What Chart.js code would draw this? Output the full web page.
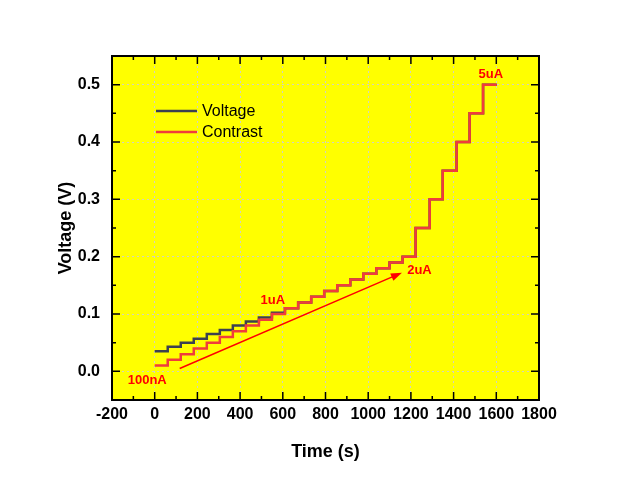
<!DOCTYPE html>
<html>
<head>
<meta charset="utf-8">
<script src="https://cdn.jsdelivr.net/npm/chart.js@4.4.1/dist/chart.umd.min.js"></script>
<style>
  html, body { margin: 0; padding: 0; background: #ffffff; }
  #wrap { width: 626px; height: 480px; }
</style>
</head>
<body>
<div id="wrap"><canvas id="grafik" width="626" height="480"></canvas></div>
<script>
// Veriler: her seviye kendi başlangıç zamanında, son nokta bitiş
const zaman = [0, 61, 122, 183, 244, 305, 366, 427, 488, 549, 610, 672, 733, 794, 855, 916, 977, 1038, 1100, 1161, 1222, 1288, 1349, 1414, 1475, 1538, 1602];
const kontrast = [0.01, 0.02, 0.03, 0.04, 0.05, 0.06, 0.07, 0.08, 0.09, 0.10, 0.11, 0.12, 0.13, 0.14, 0.15, 0.16, 0.17, 0.18, 0.19, 0.20, 0.25, 0.30, 0.35, 0.40, 0.45, 0.50, 0.50];
const voltaj = [0.035, 0.043, 0.050, 0.057, 0.065, 0.072, 0.080, 0.087, 0.094, 0.102, 0.11, 0.12, 0.13, 0.14, 0.15, 0.16, 0.17, 0.18, 0.19, 0.20, 0.25, 0.30, 0.35, 0.40, 0.45, 0.50, 0.50];

const xTikler = [-200, 0, 200, 400, 600, 800, 1000, 1200, 1400, 1600, 1800];
const yTikler = [0.0, 0.1, 0.2, 0.3, 0.4, 0.5];

// Etiketler ve ok (veri biriminde)
const etiketler = [
    { text: '100nA', x: -35, y: -0.016 },
    { text: '1uA', x: 553, y: 0.124 },
    { text: '2uA', x: 1240, y: 0.176 },
    { text: '5uA', x: 1574, y: 0.517 }
];
const ok = { x1: 117, y1: 0.005, x2: 1158, y2: 0.172 };

const KIRMIZI = '#f03c3c';
const GRI = '#3c4150';
const FONT = "Arial, 'Liberation Sans', sans-serif";

const sus = {
    id: 'sus',
    beforeDraw(chart) {
        const { ctx, chartArea: a } = chart;
        ctx.save();
        ctx.fillStyle = '#ffff00';
        ctx.fillRect(a.left, a.top, a.right - a.left, a.bottom - a.top);
        ctx.restore();
    },
    afterDraw(chart) {
        const { ctx, chartArea: a, scales } = chart;
        const xs = scales.x, ys = scales.y;
        ctx.save();

        // Çerçeve
        ctx.strokeStyle = '#000';
        ctx.lineWidth = 2;
        ctx.strokeRect(a.left, a.top, a.right - a.left, a.bottom - a.top);

        // İçe doğru tikler (dört kenar)
        ctx.lineWidth = 1.5;
        ctx.beginPath();
        for (let v = -200; v <= 1800; v += 100) {
            const px = xs.getPixelForValue(v);
            const L = (v % 200 === 0) ? 8 : 4;
            ctx.moveTo(px, a.bottom); ctx.lineTo(px, a.bottom - L);
            ctx.moveTo(px, a.top); ctx.lineTo(px, a.top + L);
        }
        for (let i = -1; i <= 11; i++) {
            const v = i * 0.05;
            const py = ys.getPixelForValue(v);
            const L = (i % 2 === 0) ? 8 : 4;
            ctx.moveTo(a.left, py); ctx.lineTo(a.left + L, py);
            ctx.moveTo(a.right, py); ctx.lineTo(a.right - L, py);
        }
        ctx.stroke();

        // Ok
        const x1 = xs.getPixelForValue(ok.x1), y1 = ys.getPixelForValue(ok.y1);
        const x2 = xs.getPixelForValue(ok.x2), y2 = ys.getPixelForValue(ok.y2);
        const aci = Math.atan2(y2 - y1, x2 - x1);
        ctx.strokeStyle = '#ff0000';
        ctx.fillStyle = '#ff0000';
        ctx.lineWidth = 1.5;
        ctx.beginPath();
        ctx.moveTo(x1, y1);
        ctx.lineTo(x2 - 8 * Math.cos(aci), y2 - 8 * Math.sin(aci));
        ctx.stroke();
        ctx.beginPath();
        ctx.moveTo(x2, y2);
        ctx.lineTo(x2 - 11 * Math.cos(aci) + 4 * Math.sin(aci), y2 - 11 * Math.sin(aci) - 4 * Math.cos(aci));
        ctx.lineTo(x2 - 11 * Math.cos(aci) - 4 * Math.sin(aci), y2 - 11 * Math.sin(aci) + 4 * Math.cos(aci));
        ctx.closePath();
        ctx.fill();

        // Akım etiketleri
        ctx.font = 'bold 13px ' + FONT;
        ctx.textAlign = 'center';
        ctx.textBaseline = 'middle';
        etiketler.forEach(e => {
            ctx.fillText(e.text, xs.getPixelForValue(e.x), ys.getPixelForValue(e.y));
        });

        // Lejant (grafik içinde)
        const lx = a.left + 44, ly = a.top + 55;
        const seri = [chart.data.datasets[0], chart.data.datasets[1]];
        ctx.font = '16px ' + FONT;
        ctx.textAlign = 'left';
        seri.forEach((ds, i) => {
            const y = ly + i * 21;
            ctx.strokeStyle = ds.borderColor;
            ctx.lineWidth = 2.5;
            ctx.beginPath();
            ctx.moveTo(lx, y); ctx.lineTo(lx + 41, y);
            ctx.stroke();
            ctx.fillStyle = '#000';
            ctx.fillText(ds.label, lx + 46, y + 1);
        });
        ctx.restore();
    }
};

new Chart(document.getElementById('grafik').getContext('2d'), {
    type: 'line',
    data: {
        datasets: [
            {
                label: 'Voltage',
                data: zaman.map((t, i) => ({ x: t, y: voltaj[i] })),
                borderColor: GRI,
                borderWidth: 2.5,
                stepped: 'before',
                pointRadius: 0,
                fill: false,
                order: 1
            },
            {
                label: 'Contrast',
                data: zaman.map((t, i) => ({ x: t, y: kontrast[i] })),
                borderColor: KIRMIZI,
                borderWidth: 2.5,
                stepped: 'before',
                pointRadius: 0,
                fill: false,
                order: 0
            }
        ]
    },
    options: {
        responsive: false,
        animation: false,
        layout: { padding: { left: 0, right: 87, top: 56, bottom: 0 } },
        plugins: {
            legend: { display: false },
            tooltip: { enabled: false }
        },
        scales: {
            x: {
                type: 'linear',
                min: -200,
                max: 1800,
                afterBuildTicks: s => { s.ticks = xTikler.map(v => ({ value: v })); },
                afterFit: s => { s.height = 80; },
                border: { display: false, dash: [2, 3] },
                grid: { color: '#d2d2c0', drawTicks: false, lineWidth: 1 },
                ticks: {
                    color: '#000',
                    padding: 5,
                    font: { family: FONT, size: 16, weight: 'bold' },
                    callback: v => String(v)
                },
                title: {
                    display: true,
                    text: 'Time (s)',
                    color: '#000',
                    font: { family: FONT, size: 18, weight: 'bold' },
                    padding: { top: 0, bottom: 17 }
                }
            },
            y: {
                type: 'linear',
                min: -0.05,
                max: 0.55,
                afterBuildTicks: s => { s.ticks = yTikler.map(v => ({ value: v })); },
                afterFit: s => { s.width = 112; },
                border: { display: false, dash: [2, 3] },
                grid: { color: '#d2d2c0', drawTicks: false, lineWidth: 1 },
                ticks: {
                    color: '#000',
                    padding: 12,
                    font: { family: FONT, size: 16, weight: 'bold' },
                    callback: v => Number(v).toFixed(1)
                },
                title: {
                    display: true,
                    text: 'Voltage (V)',
                    color: '#000',
                    font: { family: FONT, size: 18, weight: 'bold' },
                    padding: { top: 55, bottom: 0 }
                }
            }
        }
    },
    plugins: [sus]
});
</script>
</body>
</html>
